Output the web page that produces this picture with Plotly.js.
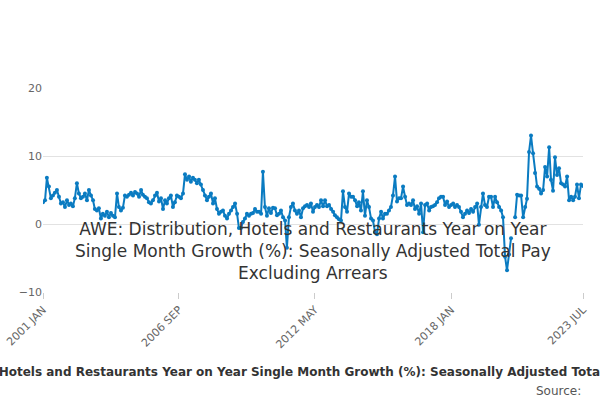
<!DOCTYPE html>
<html>
<head>
<meta charset="utf-8">
<script src="https://cdn.plot.ly/plotly-3.0.1.min.js"></script>
<style>body{margin:0;} #chart{width:600px;height:400px;}</style>
</head>
<body>
<div id="chart"></div>
<script>
// monthly growth, 2001 JAN .. 2023 JUL
const growth = [
  3.2, 3.5, 6.8, 5.5, 3.8, 4.2, 4.6, 5.0, 4.0, 3.0, 3.2, 2.5,
  3.5, 2.8, 3.0, 2.6, 3.8, 6.0, 4.5, 3.8, 4.0, 4.5, 3.5, 5.0,
  4.2, 3.5, 2.2, 2.0, 2.3, 0.8, 1.5, 1.2, 1.8, 1.0, 1.6, 1.2,
  1.0, 4.5, 2.5, 2.0, 2.4, 4.2, 4.0, 4.3, 4.6, 4.2, 4.7, 4.5,
  4.0, 5.0, 4.3, 4.0, 3.8, 3.2, 3.0, 3.5, 4.2, 4.6, 3.3, 3.8,
  2.2, 3.5, 3.0, 3.8, 4.2, 2.5, 3.2, 4.2, 4.0, 3.8, 4.5, 7.3,
  6.5, 7.0, 6.2, 6.8, 6.5, 6.0, 6.5, 5.8, 5.0, 4.2, 3.5, 4.0,
  4.5, 3.0, 3.8, 2.2, 1.5, 1.8, 2.0, 1.2, 0.8, 1.5, 2.0, 2.5,
  3.0, 1.5, -0.6, -0.6, 0.3, 0.8, 1.5, 1.2, 1.5, 1.6, 2.2, 1.8,
  1.8, 1.5, 7.7, 2.5, 1.2, 2.3, 1.6, 2.4, 2.3, 1.3, 1.5, 2.0,
  1.0, 0.5, -3.5, 1.0, 2.5, 3.0, 2.0, 1.5, 2.0, 1.0, 2.3, 2.6,
  2.8, 2.5, 3.0, 1.8, 2.5, 2.8, 2.5, 3.5, 2.6, 3.5, 2.6, 2.8,
  2.2, 1.8, 1.3, 1.0, 0.7, 0.5, 4.8, 2.5, 1.8, 4.5, 4.0, 4.0,
  3.5, 2.6, 3.2, 2.0, 4.8, 1.2, 3.5, 2.5, 0.8, 0.5, -1.2, -1.5,
  0.8, 1.8, 0.8, 1.5, 1.5, 2.0, 2.5, 4.2, 7.0, 3.3, 3.8, 3.8,
  5.5, 4.0, 2.8, 3.0, 2.8, 3.5, 2.2, 2.6, 1.5, 3.0, -1.2, 2.8,
  3.0, 2.0, 2.5, 2.6, 2.8, 3.2, 3.8, 4.0, 4.0, 2.8, 3.3, 2.5,
  2.8, 3.0, 2.5, 2.8, 2.5, 1.8, 1.0, 1.5, 2.0, 1.6, 2.2, 1.8,
  2.5, 3.0, -0.1, 2.5, 4.5, 2.8, 2.5, 4.0, 4.0, 2.5, 4.0, 3.2,
  2.5, 2.0, 1.0, -4.8, -6.8, -4.5, -2.1, null, 1.0, 4.3, 4.2, 4.2,
  1.0, 2.5, 3.7, 10.6, 13.0, 10.4, 7.5, 5.5, 5.2, 4.5, 5.0, 8.4,
  7.0, 11.3, 6.5, 4.9, 9.8, 7.2, 8.2, 6.0, 5.8, 5.5, 7.0, 3.5,
  4.0, 3.5, 4.0, 5.8, 3.8, 5.8, 5.6
];
const startYear = 2001;
const tickDates = ["2001-01-01", "2006-09-01", "2012-05-01", "2018-01-01", "2023-07-01"];
const tickLabels = ["2001 JAN", "2006 SEP", "2012 MAY", "2018 JAN", "2023 JUL"];

const months = growth.map((v, i) => {
  const y = startYear + Math.floor(i / 12);
  const m = (i % 12) + 1;
  return y + "-" + String(m).padStart(2, "0") + "-01";
});

const trace = {
  x: months,
  y: growth,
  type: "scatter",
  mode: "lines+markers",
  connectgaps: false,
  line: { color: "#0a7bc1", width: 2 },
  marker: { color: "#0a7bc1", size: 4 },
  hoverinfo: "x+y",
};

const layout = {
  width: 600,
  height: 400,
  margin: { t: 88, l: 43, r: 17, b: 108 },
  paper_bgcolor: "#fff",
  plot_bgcolor: "#fff",
  font: { family: "DejaVu Sans, sans-serif", color: "#555" },
  showlegend: false,
  xaxis: {
    type: "date",
    range: ["2001-01-01", "2023-07-01"],
    tickvals: tickDates,
    ticktext: tickLabels,
    tickangle: -45,
    ticks: "outside",
    ticklen: 6,
    tickcolor: "#ccc",
    showgrid: false,
    showline: false,
    zeroline: false,
    tickfont: { size: 11, color: "#666" },
  },
  yaxis: {
    range: [-10, 20],
    tickvals: [-10, 0, 10, 20],
    showgrid: true,
    gridcolor: "#e2e2e2",
    zeroline: false,
    showline: false,
    tickfont: { size: 11, color: "#666" },
    ticksuffix: "  ",
  },
  annotations: [
    {
      text: "AWE: Distribution, Hotels and Restaurants Year on Year<br>Single Month Growth (%): Seasonally Adjusted Total Pay<br>Excluding Arrears",
      xref: "paper", yref: "container", x: 0.5, y: 0.99, xanchor: "center", yanchor: "top",
      showarrow: false, font: { size: 17, color: "#333" },
    },
    {
      text: "<b>AWE: Distribution, Hotels and Restaurants Year on Year Single Month Growth (%): Seasonally Adjusted Total Pay Excluding Arrears</b>",
      xref: "paper", yref: "paper", x: 0.5, y: -0.39, xanchor: "center", yanchor: "middle",
      showarrow: false, font: { size: 12, color: "#333" },
    },
    {
      text: "Source:",
      xref: "paper", yref: "paper", x: 1.0, y: -0.485, xanchor: "right", yanchor: "middle",
      showarrow: false, font: { size: 12, color: "#555" },
    },
  ],
  dragmode: false,
};

Plotly.newPlot("chart", [trace], layout, { displayModeBar: false, responsive: false });
</script>
</body>
</html>
